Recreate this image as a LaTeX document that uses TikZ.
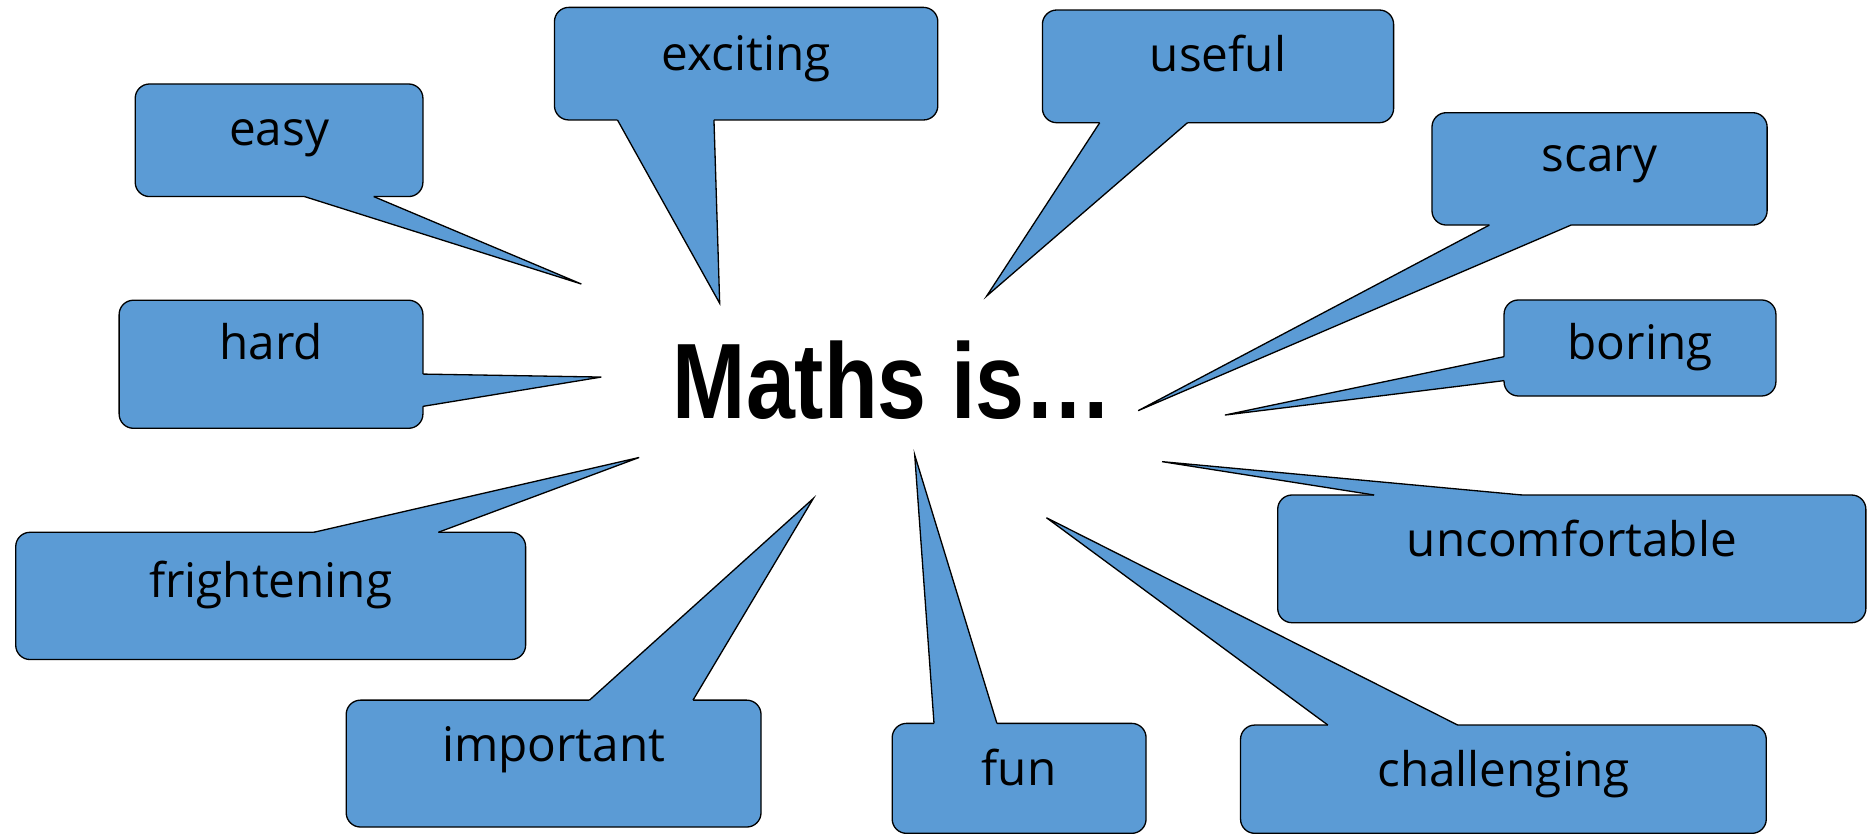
\documentclass[tikz,border=0pt]{standalone}
\usepackage{fontspec}
\setmainfont{Open Sans}
\newfontfamily\titlefont[FakeStretch=0.82]{Liberation Sans}
\usetikzlibrary{calc}
\definecolor{boxblue}{HTML}{5B9BD5}
\newcommand{\bubble}[7]{%
  \node[box, minimum width={(#4)-(#2)}, minimum height={(#5)-(#3)}] (#1) at ({((#2)+(#4))/2},{((#3)+(#5))/2}) {};
}
\newcommand{\bubbletext}[3]{%
  \node[word] (#1-t) at ([yshift=-#3pt]#1.north) {#2};
}
\newcommand{\tailbottom}[4]{%
  \fill[tailfill] ($(#1.south west)+(#2,0)$) -- (#4) -- ($(#1.south west)+(#3,0)$) -- ($(#1.south west)+(#3,-2.5)$) -- ($(#1.south west)+(#2,-2.5)$) -- cycle;
  \draw[tailline] ($(#1.south west)+(#2,0)$) -- (#4) -- ($(#1.south west)+(#3,0)$);
}
\newcommand{\tailtop}[4]{%
  \fill[tailfill] ($(#1.north west)+(#2,0)$) -- (#4) -- ($(#1.north west)+(#3,0)$) -- ($(#1.north west)+(#3,2.5)$) -- ($(#1.north west)+(#2,2.5)$) -- cycle;
  \draw[tailline] ($(#1.north west)+(#2,0)$) -- (#4) -- ($(#1.north west)+(#3,0)$);
}
\newcommand{\tailright}[4]{%
  \fill[tailfill] ($(#1.north east)+(0,#2)$) -- (#4) -- ($(#1.north east)+(0,#3)$) -- ($(#1.north east)+(-2.5,#3)$) -- ($(#1.north east)+(-2.5,#2)$) -- cycle;
  \draw[tailline] ($(#1.north east)+(0,#2)$) -- (#4) -- ($(#1.north east)+(0,#3)$);
}
\newcommand{\tailleft}[4]{%
  \fill[tailfill] ($(#1.north west)+(0,#2)$) -- (#4) -- ($(#1.north west)+(0,#3)$) -- ($(#1.north west)+(2.5,#3)$) -- ($(#1.north west)+(2.5,#2)$) -- cycle;
  \draw[tailline] ($(#1.north west)+(0,#2)$) -- (#4) -- ($(#1.north west)+(0,#3)$);
}
\begin{document}
\begin{tikzpicture}[x=1pt,y=-1pt,
  box/.style={draw=black, line width=1.1pt, fill=boxblue, rounded corners=12pt, inner sep=0pt, outer sep=0pt},
  word/.style={anchor=base, font=\fontsize{40}{48}\selectfont, text=black, inner sep=0pt},
  tailline/.style={draw=black, line width=1.1pt},
  tailfill/.style={fill=boxblue},
  title/.style={anchor=base west, inner sep=0pt, font=\titlefont\bfseries\fontsize{90}{100}\selectfont}]
\fill[white] (0,0) rectangle (1568,701);
\useasboundingbox (0,0) rectangle (1568,701);

% tips
\coordinate (easy-tip) at (488,238.4);
\coordinate (exciting-tip) at (604.1,254.6);
\coordinate (useful-tip) at (828.2,248.5);
\coordinate (scary-tip) at (955.4,344.7);
\coordinate (hard-tip) at (504.7,316.5);
\coordinate (boring-tip) at (1028.2,348.4);
\coordinate (frightening-tip) at (536.5,384);
\coordinate (important-tip) at (682.7,418.4);
\coordinate (fun-tip) at (767.8,381.9);
\coordinate (challenging-tip) at (878.4,434.6);
\coordinate (uncomfortable-tip) at (975.4,387.5);

\bubble{easy}{113.5}{70.5}{355}{165}{}{}
\tailbottom{easy}{142.1}{200.2}{easy-tip}
\bubbletext{easy}{easy}{52}

\bubble{exciting}{465.4}{6.2}{787.2}{100.7}{}{}
\tailbottom{exciting}{52.9}{133.9}{exciting-tip}
\bubbletext{exciting}{exciting}{52.6}

\bubble{useful}{875}{8.4}{1169.8}{103}{}{}
\tailbottom{useful}{48.1}{121.8}{useful-tip}
\bubbletext{useful}{useful}{51.2}

\bubble{scary}{1202}{94.6}{1483.3}{188.9}{}{}
\tailbottom{scary}{48.2}{116.8}{scary-tip}
\bubbletext{scary}{scary}{49.5}

\bubble{hard}{100}{252}{355}{359.5}{}{}
\tailright{hard}{62}{89.1}{hard-tip}
\bubbletext{hard}{hard}{49.5}

\bubble{boring}{1262.5}{251.8}{1490.7}{332.4}{}{}
\tailleft{boring}{47.6}{67.7}{boring-tip}
\bubbletext{boring}{boring}{49.8}

\bubble{frightening}{13.2}{446.8}{441.2}{553.6}{}{}
\tailtop{frightening}{250.2}{354.7}{frightening-tip}
\bubbletext{frightening}{frightening}{54.8}

\bubble{important}{290.6}{587.7}{638.8}{694.2}{}{}
\tailtop{important}{204.2}{291.1}{important-tip}
\bubbletext{important}{important}{51.1}

\bubble{fun}{748.9}{607.2}{962}{699.5}{}{}
\tailtop{fun}{35.1}{87.9}{fun-tip}
\bubbletext{fun}{fun}{51.8}

\bubble{challenging}{1041.3}{608.6}{1482.6}{699.5}{}{}
\tailtop{challenging}{73.3}{182.3}{challenging-tip}
\bubbletext{challenging}{challenging}{51.8}

\bubble{uncomfortable}{1072.5}{415.5}{1566.2}{522.7}{}{}
\tailtop{uncomfortable}{81}{205.1}{uncomfortable-tip}
\bubbletext{uncomfortable}{uncomfortable}{51.8}

\node[title] (maths) at (564.6,351.2) {Maths is…};
\end{tikzpicture}
\end{document}
